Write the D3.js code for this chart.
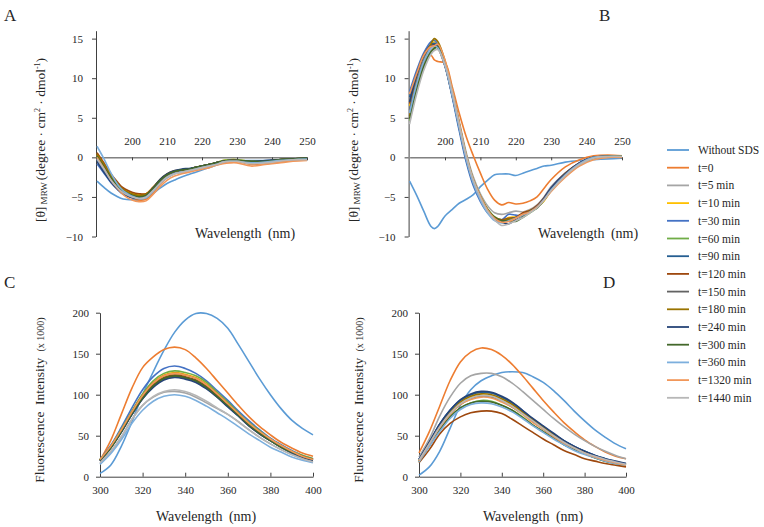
<!DOCTYPE html>
<html><head><meta charset="utf-8">
<script src="https://cdn.jsdelivr.net/npm/d3@7"></script>
<style>
body{margin:0;background:#fff}
svg text{font-family:"Liberation Serif","DejaVu Serif",serif !important;fill:#262626}
</style>
</head><body>
<svg id="chart" width="764" height="527"></svg>
<script>
const seriesNames = ["Without SDS","t=0","t=5 min","t=10 min","t=30 min","t=60 min","t=90 min","t=120 min","t=150 min","t=180 min","t=240 min","t=300 min","t=360 min","t=1320 min","t=1440 min"];
const seriesColors = ["#5B9BD5","#ED7D31","#A5A5A5","#FFC000","#4472C4","#70AD47","#255E91","#9E480E","#636363","#997300","#264478","#43682B","#7CAFDD","#F1975A","#B7B7B7"];

const cdWavelengths = [190,192,194,196,197,198,200,202,204,206,208,210,212,214,216,218,220,222,224,226,228,230,234,238,242,246,250];
const cdXTicks = [200,210,220,230,240,250];
const cdYTicks = [-10,-5,0,5,10,15];

const cdAValues = [
 [-3.0,-3.8,-4.5,-5.0,-5.2,-5.3,-5.35,-5.4,-5.2,-4.6,-3.9,-3.3,-2.9,-2.5,-2.2,-1.9,-1.6,-1.3,-1.0,-0.7,-0.5,-0.4,-0.4,-0.4,-0.3,-0.2,-0.1],
 [0.3,-1.0,-2.5,-3.7,-4.2,-4.6,-5.1,-5.4,-5.3,-4.5,-3.4,-2.6,-2.1,-1.9,-1.7,-1.5,-1.3,-1.1,-0.9,-0.6,-0.5,-0.5,-0.9,-0.8,-0.6,-0.4,-0.3],
 [0.0,-1.3,-2.7,-3.8,-4.2,-4.5,-4.9,-5.1,-4.9,-4.1,-3.1,-2.4,-2.0,-1.8,-1.6,-1.4,-1.2,-1.0,-0.8,-0.5,-0.4,-0.4,-0.7,-0.6,-0.4,-0.3,-0.2],
 [0.5,-0.9,-2.3,-3.4,-3.8,-4.1,-4.5,-4.7,-4.6,-3.8,-2.9,-2.2,-1.8,-1.6,-1.5,-1.3,-1.1,-0.9,-0.7,-0.4,-0.3,-0.3,-0.5,-0.5,-0.3,-0.2,-0.1],
 [-0.8,-2.0,-3.2,-4.1,-4.5,-4.7,-5.0,-5.1,-4.9,-4.0,-3.0,-2.3,-1.9,-1.7,-1.5,-1.3,-1.1,-0.9,-0.7,-0.5,-0.4,-0.4,-0.6,-0.5,-0.3,-0.2,-0.1],
 [0.2,-1.1,-2.5,-3.6,-4.0,-4.3,-4.7,-4.9,-4.7,-3.9,-2.9,-2.2,-1.8,-1.6,-1.5,-1.3,-1.1,-0.9,-0.7,-0.4,-0.3,-0.3,-0.5,-0.5,-0.3,-0.2,-0.1],
 [-0.3,-1.6,-2.9,-3.9,-4.3,-4.6,-4.9,-5.0,-4.8,-3.9,-2.9,-2.2,-1.8,-1.6,-1.5,-1.3,-1.1,-0.9,-0.7,-0.5,-0.4,-0.4,-0.6,-0.5,-0.3,-0.2,-0.1],
 [0.6,-0.7,-2.1,-3.2,-3.7,-4.0,-4.4,-4.6,-4.6,-3.8,-2.8,-2.1,-1.7,-1.6,-1.5,-1.3,-1.1,-0.9,-0.7,-0.5,-0.4,-0.4,-0.6,-0.5,-0.3,-0.2,-0.1],
 [0.0,-1.3,-2.7,-3.8,-4.2,-4.5,-4.8,-5.0,-4.8,-3.9,-2.9,-2.2,-1.8,-1.6,-1.5,-1.3,-1.1,-0.9,-0.7,-0.5,-0.4,-0.4,-0.6,-0.5,-0.3,-0.2,-0.1],
 [0.4,-0.9,-2.3,-3.4,-3.9,-4.2,-4.6,-4.8,-4.7,-3.9,-2.9,-2.2,-1.8,-1.6,-1.5,-1.3,-1.1,-0.9,-0.7,-0.5,-0.4,-0.4,-0.6,-0.5,-0.3,-0.2,-0.1],
 [-0.5,-1.9,-3.1,-4.1,-4.5,-4.8,-5.1,-5.2,-4.9,-3.9,-2.8,-2.1,-1.7,-1.5,-1.4,-1.3,-1.1,-0.9,-0.7,-0.5,-0.4,-0.4,-0.5,-0.4,-0.3,-0.2,-0.1],
 [0.1,-1.2,-2.6,-3.7,-4.1,-4.4,-4.8,-5.0,-4.8,-3.9,-2.9,-2.2,-1.8,-1.6,-1.5,-1.3,-1.1,-0.9,-0.7,-0.5,-0.4,-0.4,-0.5,-0.5,-0.3,-0.2,-0.1],
 [1.4,-0.2,-2.0,-3.5,-4.0,-4.4,-4.9,-5.2,-5.1,-4.3,-3.3,-2.6,-2.1,-1.9,-1.7,-1.5,-1.3,-1.1,-0.9,-0.6,-0.5,-0.5,-0.7,-0.6,-0.4,-0.3,-0.2],
 [0.0,-1.4,-2.9,-4.0,-4.5,-4.9,-5.4,-5.6,-5.5,-4.7,-3.7,-2.9,-2.4,-2.1,-1.9,-1.7,-1.5,-1.3,-1.0,-0.8,-0.7,-0.7,-1.1,-0.9,-0.7,-0.5,-0.4],
 [-0.2,-1.5,-2.9,-3.9,-4.3,-4.6,-5.0,-5.2,-5.0,-4.2,-3.3,-2.5,-2.1,-1.9,-1.7,-1.5,-1.3,-1.1,-0.9,-0.6,-0.5,-0.5,-0.8,-0.7,-0.5,-0.3,-0.3]
];

const cdBValues = [
 [-3.0,-4.8,-6.8,-8.7,-9.0,-8.7,-7.4,-6.6,-5.8,-5.3,-4.7,-3.7,-2.9,-2.2,-2.1,-2.1,-2.3,-2.0,-1.7,-1.4,-1.1,-1.0,-0.6,-0.4,-0.3,-0.2,-0.1],
 [5.0,9.0,11.8,12.9,12.3,12.1,11.9,9.0,5.6,2.6,0.2,-2.0,-4.0,-5.4,-6.0,-5.7,-5.9,-5.8,-5.5,-5.0,-3.9,-2.8,-1.2,-0.3,0.2,0.3,0.2],
 [4.5,8.6,11.6,13.5,13.9,13.8,11.9,8.6,4.6,0.6,-2.5,-4.6,-6.1,-7.0,-7.2,-7.0,-6.8,-6.9,-6.6,-6.0,-5.0,-3.7,-2.0,-0.7,0.0,0.2,0.1],
 [6.5,10.0,12.8,14.3,14.6,14.2,11.9,8.1,3.8,-0.2,-3.2,-5.3,-6.8,-7.7,-8.0,-7.6,-7.5,-7.1,-6.7,-6.3,-5.5,-4.2,-2.3,-0.9,-0.1,0.1,0.2],
 [8.3,11.0,13.2,14.6,14.8,14.2,11.6,7.7,3.4,-0.6,-3.6,-5.6,-7.0,-7.8,-7.9,-7.2,-7.3,-7.4,-6.9,-6.2,-5.1,-3.8,-2.0,-0.7,0.0,0.1,0.0],
 [4.6,8.3,11.3,13.2,13.7,13.9,12.0,8.5,4.3,0.3,-2.8,-4.9,-6.5,-7.5,-7.9,-7.9,-8.0,-7.6,-7.0,-6.4,-5.4,-4.1,-2.2,-0.9,-0.1,0.1,0.0],
 [7.6,10.6,12.9,14.2,14.4,14.0,11.6,7.9,3.7,-0.3,-3.3,-5.3,-6.9,-7.8,-8.1,-7.9,-7.7,-7.3,-6.9,-6.3,-5.2,-3.9,-2.1,-0.8,0.0,0.1,0.1],
 [6.8,10.3,12.9,14.1,14.2,13.8,11.5,7.9,3.9,-0.1,-3.1,-5.1,-6.7,-7.6,-7.9,-7.7,-7.6,-7.0,-6.7,-6.1,-5.1,-3.9,-2.0,-0.7,0.0,0.1,0.1],
 [6.0,9.6,12.3,14.0,14.2,13.9,11.8,8.2,4.1,0.1,-2.9,-5.0,-6.6,-7.6,-8.0,-7.8,-7.6,-7.2,-6.8,-6.2,-5.2,-4.0,-2.1,-0.8,0.0,0.1,0.1],
 [5.2,9.0,12.0,14.3,15.0,14.6,12.2,8.4,4.2,0.1,-2.9,-5.0,-6.6,-7.6,-8.0,-7.8,-7.7,-7.3,-6.9,-6.3,-5.3,-4.1,-2.1,-0.8,0.0,0.1,0.1],
 [7.0,10.4,12.8,14.0,14.2,13.9,11.6,7.9,3.8,-0.2,-3.2,-5.2,-6.8,-7.8,-8.2,-8.4,-7.8,-7.3,-6.9,-6.3,-5.2,-3.9,-2.1,-0.7,0.0,0.1,0.0],
 [4.9,8.5,11.5,13.3,13.8,14.0,12.0,8.5,4.3,0.2,-2.9,-5.0,-6.6,-7.6,-8.0,-8.0,-8.1,-7.5,-6.8,-6.4,-5.4,-4.2,-2.3,-0.9,-0.1,0.1,0.1],
 [5.6,9.3,12.1,13.8,14.1,13.8,11.5,7.8,3.7,-0.3,-3.3,-5.4,-7.0,-8.0,-8.3,-8.0,-7.7,-7.3,-6.9,-6.3,-5.3,-4.1,-2.2,-0.8,0.0,0.1,0.1],
 [8.0,10.6,12.9,14.0,14.1,14.3,12.3,8.7,4.4,0.3,-2.8,-4.9,-6.6,-7.7,-8.2,-8.1,-7.7,-7.2,-6.9,-6.3,-5.4,-4.3,-2.5,-1.1,-0.3,0.0,0.0],
 [4.2,8.0,11.0,13.0,13.5,13.6,11.7,8.3,4.2,0.2,-2.9,-5.1,-6.8,-7.9,-8.6,-8.4,-8.0,-7.6,-7.0,-6.4,-5.4,-4.2,-2.3,-0.9,-0.1,0.1,0.1]
];

const flWavelengths = [300,305,310,315,320,325,330,335,340,345,350,355,360,365,370,375,380,385,390,395,400];
const flXTicks = [300,320,340,360,380,400];
const flYTicks = [0,50,100,150,200];

const flCValues = [
 [4,14,37,67,100,128,154,176,191,199,199,193,181,161,140,119,100,83,69,59,51],
 [20,44,76,108,133,146,155,158,155,145,132,117,102,87,73,61,51,42,35,29,25],
 [16,30,48,70,87,97,103,104,102,97,90,83,76,67,57,48,40,33,27,22,18],
 [20,37,57,79,100,115,124,127,125,121,113,102,89,77,65,55,46,38,30,25,21],
 [21,38,60,84,106,122,132,135,132,126,117,105,93,80,68,57,47,39,32,26,22],
 [21,37,58,80,101,117,126,129,127,123,115,103,91,78,66,56,46,38,31,26,22],
 [20,35,55,76,96,110,119,122,120,116,108,98,86,74,62,53,44,36,29,24,20],
 [20,36,56,77,97,112,121,124,122,118,110,99,87,75,63,54,45,37,30,25,21],
 [19,35,55,76,95,110,119,122,120,116,108,97,86,74,62,52,44,36,29,24,20],
 [20,36,56,79,99,114,123,126,124,120,112,101,89,77,64,54,45,37,30,25,21],
 [19,35,54,76,95,109,118,121,119,115,107,97,85,74,62,52,44,36,29,24,20],
 [20,35,55,77,96,111,120,123,121,117,109,98,87,75,63,53,44,36,30,25,21],
 [15,28,45,65,81,92,98,100,98,93,86,78,70,61,52,44,36,30,24,20,17],
 [21,37,57,79,99,114,123,126,124,120,112,101,89,77,65,55,46,38,31,25,21],
 [17,31,49,70,87,98,104,106,104,99,92,84,76,67,57,48,40,33,27,22,18]
];

const flDValues = [
 [2,12,31,59,87,106,117,123,127,128,127,122,115,105,93,80,68,57,48,40,34],
 [29,55,86,117,140,152,157,155,148,137,123,108,93,79,66,55,45,37,30,25,22],
 [24,46,74,97,114,123,126,126,122,114,104,93,82,71,61,52,44,37,31,26,22],
 [20,41,61,78,90,97,100,99,94,87,78,68,59,50,43,36,30,25,21,18,15],
 [21,41,64,81,93,100,103,102,97,90,81,70,61,52,44,37,31,26,21,18,15],
 [18,38,57,73,84,90,93,92,87,81,73,63,55,47,40,33,28,23,19,17,14],
 [21,42,64,81,93,100,103,102,97,90,80,70,61,52,44,37,31,26,22,18,16],
 [17,33,52,65,73,78,80,80,77,70,62,54,46,39,32,27,22,19,16,14,12],
 [19,40,60,77,88,95,98,97,92,85,77,67,58,49,42,35,29,24,20,17,15],
 [20,41,62,78,91,98,101,100,95,88,79,69,60,51,43,36,30,25,21,18,15],
 [21,42,64,81,94,101,104,103,98,91,81,71,62,53,44,37,31,26,22,19,16],
 [18,38,57,73,84,90,92,91,87,81,72,63,55,47,39,33,28,23,19,16,14],
 [18,37,55,71,82,88,90,89,85,79,71,62,54,46,39,32,27,23,19,16,14],
 [19,40,60,76,88,94,97,96,91,85,76,66,58,49,41,35,29,24,20,17,14],
 [20,40,61,77,89,96,99,98,93,86,77,68,59,50,42,35,29,25,21,18,15]
];

const svg = d3.select("#chart");
const axisColor = "#404040";
const serif = "'Liberation Serif','DejaVu Serif',serif";

function styleAxis(g){
  g.attr("font-family", serif);
  g.select(".domain").attr("stroke", axisColor).attr("stroke-width", 1);
  g.selectAll(".tick line").attr("stroke", axisColor);
  g.selectAll(".tick text").attr("font-size", 11).attr("fill", "#262626");
}

function drawLines(values, xs, x, y){
  const line = d3.line().x((d,i)=>x(xs[i])).y(d=>y(d)).curve(d3.curveCatmullRom.alpha(0.5));
  svg.append("g").selectAll("path").data(values).join("path")
    .attr("d", d=>line(d)).attr("fill","none")
    .attr("stroke",(d,i)=>seriesColors[i]).attr("stroke-width",1.6)
    .attr("stroke-linejoin","round");
}

function cdYTitle(cx, cy){
  const t = svg.append("text").attr("transform",`translate(${cx},${cy}) rotate(-90)`)
    .attr("text-anchor","middle").attr("font-size",13.5);
  t.append("tspan").text("[θ]");
  t.append("tspan").attr("font-size",9).attr("dy",2).text(" MRW ");
  t.append("tspan").attr("dy",-2).text("(degree · cm");
  t.append("tspan").attr("font-size",8).attr("dy",-5).text("2");
  t.append("tspan").attr("dy",5).text(" · dmol");
  t.append("tspan").attr("font-size",8).attr("dy",-5).text("-1");
  t.append("tspan").attr("dy",5).text(")");
}

function flYTitle(cx, cy){
  const t = svg.append("text").attr("transform",`translate(${cx},${cy}) rotate(-90)`)
    .attr("text-anchor","middle").attr("font-size",13.5).attr("word-spacing",3);
  t.append("tspan").text("Fluorescence Intensity ");
  t.append("tspan").attr("font-size",10).attr("word-spacing",0).text("(x 1000)");
}

function cdPanel(values, xRange, letter, letterPos, titleX){
  const x = d3.scaleLinear().domain([190,250]).range(xRange);
  const y = d3.scaleLinear().domain([-10,16]).range([236.5,30.7]);
  const gx = svg.append("g").attr("transform",`translate(0,${y(0)})`)
    .call(d3.axisTop(x).tickValues(cdXTicks).tickSizeInner(-3).tickSizeOuter(0).tickPadding(12));
  styleAxis(gx);
  const gy = svg.append("g").attr("transform",`translate(${xRange[0]-1},0)`)
    .call(d3.axisLeft(y).tickValues(cdYTicks).tickSizeInner(4).tickSizeOuter(0).tickPadding(9));
  styleAxis(gy);
  drawLines(values, cdWavelengths, x, y);
  svg.append("text").attr("x", titleX).attr("y", 238).attr("text-anchor","middle")
    .attr("font-size",14).attr("word-spacing",3).text("Wavelength (nm)");
  svg.append("text").attr("x",letterPos[0]).attr("y",letterPos[1]).attr("font-size",17).text(letter);
  cdYTitle(xRange[0]-52, 140);
}

function flPanel(values, xRange, letter, letterPos, titleX){
  const x = d3.scaleLinear().domain([300,400]).range(xRange);
  const y = d3.scaleLinear().domain([0,200]).range([476.7,312.7]);
  const gx = svg.append("g").attr("transform",`translate(0,${y(0)})`)
    .call(d3.axisBottom(x).tickValues(flXTicks).tickSizeInner(-4).tickSizeOuter(0).tickPadding(10));
  styleAxis(gx);
  const gy = svg.append("g").attr("transform",`translate(${xRange[0]},0)`)
    .call(d3.axisLeft(y).tickValues(flYTicks).tickSizeInner(4).tickSizeOuter(0).tickPadding(7));
  styleAxis(gy);
  drawLines(values, flWavelengths, x, y);
  svg.append("text").attr("x", titleX).attr("y", 521).attr("text-anchor","middle")
    .attr("font-size",14).attr("word-spacing",3).text("Wavelength (nm)");
  svg.append("text").attr("x",letterPos[0]).attr("y",letterPos[1]).attr("font-size",17).text(letter);
  flYTitle(xRange[0]-56, 400);
}

cdPanel(cdAValues, [97,307], "A", [4,21], 245);
cdPanel(cdBValues, [409.6,622], "B", [599,21], 588);
flPanel(flCValues, [100,313], "C", [4,288], 206);
flPanel(flDValues, [419,626], "D", [603,288], 533);

const legend = svg.append("g");
seriesNames.forEach((name,i)=>{
  const yy = 150 + i*17.7;
  legend.append("line").attr("x1",667).attr("x2",689).attr("y1",yy).attr("y2",yy)
    .attr("stroke",seriesColors[i]).attr("stroke-width",1.8);
  legend.append("text").attr("x",698).attr("y",yy+4).attr("font-size",11.5).text(name);
});
</script>
</body></html>
